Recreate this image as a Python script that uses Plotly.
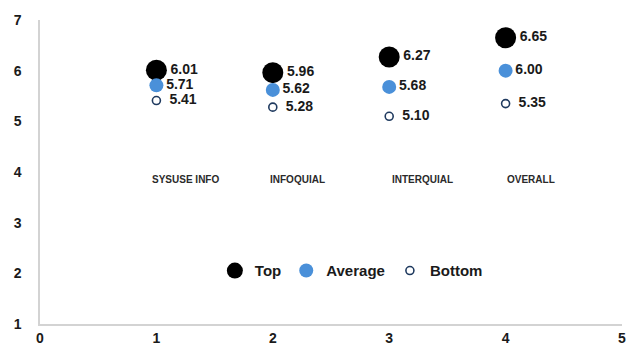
import plotly.graph_objects as go

categories = ["SYSUSE INFO", "INFOQUIAL", "INTERQUIAL", "OVERALL"]
x_pos = [1, 2, 3, 4]
top = [6.01, 5.96, 6.27, 6.65]
average = [5.71, 5.62, 5.68, 6.00]
bottom = [5.41, 5.28, 5.10, 5.35]
x_ticks = [0, 1, 2, 3, 4, 5]
y_ticks = [1, 2, 3, 4, 5, 6, 7]
label_y = 3.86

font_family = "Liberation Sans, Arial, sans-serif"
txt_color = "#1a1a1a"

fig = go.Figure()
fig.add_trace(go.Scatter(
    x=x_pos, y=top, mode="markers+text", name="Top",
    marker=dict(size=21, color="black"),
    text=[f"{v:.2f}" for v in top], textposition="middle right",
    textfont=dict(family=font_family, size=14, color=txt_color, weight="bold"),
))
fig.add_trace(go.Scatter(
    x=x_pos, y=average, mode="markers+text", name="Average",
    marker=dict(size=14, color="#4a90d9"),
    text=[f"{v:.2f}" for v in average], textposition="middle right",
    textfont=dict(family=font_family, size=14, color=txt_color, weight="bold"),
))
fig.add_trace(go.Scatter(
    x=x_pos, y=bottom, mode="markers+text", name="Bottom",
    marker=dict(size=8, color="white", line=dict(color="#1f3a5f", width=1.6)),
    text=["\u2002" + f"{v:.2f}" for v in bottom], textposition="middle right",
    textfont=dict(family=font_family, size=14, color=txt_color, weight="bold"),
))

shifts = [29, 25, 33, 25]
for xp, c, s in zip(x_pos, categories, shifts):
    fig.add_annotation(x=xp, y=label_y, text=c, showarrow=False, xshift=s,
                       font=dict(family=font_family, size=10, color="#2a2a2a", weight="bold"))

fig.update_layout(
    width=641, height=358,
    margin=dict(l=40, r=19, t=17, b=31),
    plot_bgcolor="white", paper_bgcolor="white",
    showlegend=True,
    legend=dict(orientation="h", x=0.535, xanchor="center", y=0.175, yanchor="middle",
                font=dict(family=font_family, size=15, color=txt_color, weight="bold"),
                itemsizing="trace", bgcolor="rgba(0,0,0,0)", itemwidth=30,
                tracegroupgap=0),
    xaxis=dict(range=[0, 5], tickvals=x_ticks, showgrid=False, zeroline=False,
               showline=True, linecolor="#d3d3d3", linewidth=1.5, ticks="",
               tickfont=dict(family=font_family, size=14, color=txt_color, weight="bold")),
    yaxis=dict(range=[1, 7], tickvals=y_ticks, showgrid=False, zeroline=False,
               showline=True, linecolor="#d3d3d3", linewidth=1.5, ticks="",
               ticklabelstandoff=14,
               tickfont=dict(family=font_family, size=14, color=txt_color, weight="bold")),
)

fig.write_html("out.html")
